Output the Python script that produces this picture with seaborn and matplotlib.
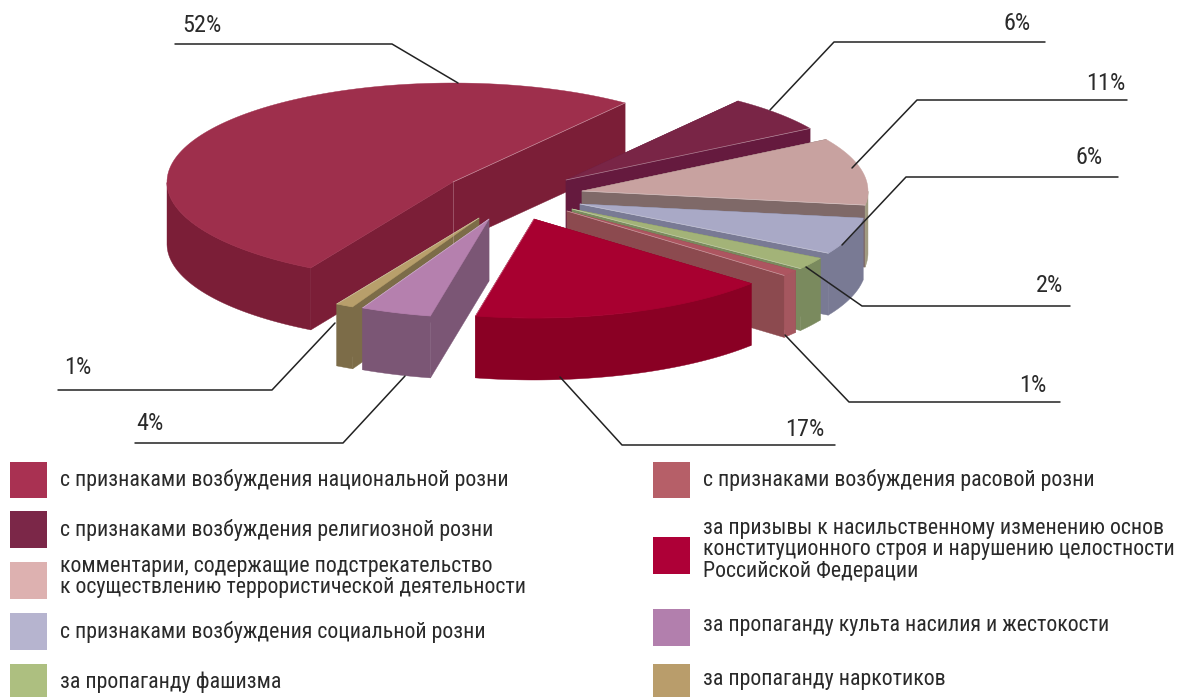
import numpy as np
import matplotlib
matplotlib.use("Agg")
import matplotlib.pyplot as plt
from matplotlib.patches import Rectangle
import seaborn as sns

# Data
labels = [
    "с признаками возбуждения национальной розни",
    "с признаками возбуждения религиозной розни",
    "комментарии, содержащие подстрекательство\nк осуществлению террористической деятельности",
    "с признаками возбуждения социальной розни",
    "за пропаганду фашизма",
    "с признаками возбуждения расовой розни",
    "за призывы к насильственному изменению основ\nконституционного строя и нарушению целостности\nРоссийской Федерации",
    "за пропаганду культа насилия и жестокости",
    "за пропаганду наркотиков",
]
values = [52, 6, 11, 6, 2, 1, 17, 4, 1]

# Colours
top_colors = ["#9E2F4C", "#792546", "#C8A2A0", "#A9A9C6", "#A3B378",
              "#AD5560", "#A80030", "#B580AE", "#B89F6B"]
face_colors = ["#7B1E37", "#651A3E", "#7F6968", "#797A94", "#7A8A5E",
               "#8C4A4F", "#8A0024", "#7B5675", "#7C6C48"]
wall_colors = ["#7B1E37", "#651A3E", "#A09A80", "#797A94", "#7A8A5E",
               "#A5575F", "#8A0024", "#7B5675", "#7C6C48"]
legend_colors = ["#A93152", "#7B2748", "#DDB1B0", "#B6B4CF", "#ADBF80",
                 "#B65F68", "#AE0037", "#B27FAD", "#B99D6B"]

# Pie layout, in pixels of the picture
apex_x = [453, 566, 582, 580, 572, 567, 534, 489, 479]
apex_y = [182, 180, 191, 204, 209, 211, 219, 219, 218]
draw_order = [0, 1, 2, 3, 4, 5, 6, 8, 7]
start_angle = 240.2
rx, ry, depth = 286, 99, 62

# Leader lines and their labels
leaders = [
    ([458, 392, 175], [83, 44, 44], "52%", 202, 26),
    ([770, 834, 1045], [110, 42, 42], "6%", 1017, 24),
    ([852, 917, 1127], [168, 100, 100], "11%", 1106, 84),
    ([842, 906, 1118], [245, 177, 177], "6%", 1089, 158),
    ([806, 862, 1070], [267, 306, 306], "2%", 1050, 285),
    ([785, 849, 1060], [335, 402, 402], "1%", 1033, 386),
    ([560, 622, 835], [377, 445, 445], "17%", 805, 430),
    ([405, 343, 135], [376, 443, 443], "4%", 150, 424),
    ([335, 272, 58], [323, 390, 390], "1%", 78, 367),
]

# Legend layout: swatch x, swatch top, swatch bottom, text x, text y
legend_x = [10, 10, 10, 10, 10, 653, 653, 653, 653]
legend_top = [462, 511, 562, 613, 664, 462, 537, 609, 664]
legend_bottom = [498, 548, 599, 650, 697, 498, 574, 646, 697]
legend_text_x = [60, 60, 60, 60, 60, 703, 703, 703, 703]
legend_text_y = [480, 530, 577, 632, 682, 480, 550, 625, 680]

sns.set_theme(style="white")
plt.rcParams["font.family"] = ["Roboto Condensed", "Liberation Sans", "DejaVu Sans"]

fig = plt.figure(figsize=(11.87, 6.97), dpi=100)
ax = fig.add_axes([0, 0, 1, 1])


def ellipse(cx, cy, a, b):
    t = np.radians(np.linspace(a, b, 120))
    return cx + rx * np.cos(t), cy - ry * np.sin(t)


# Slices go clockwise in legend order
ends = start_angle - np.cumsum(values) * 3.6
starts = np.r_[start_angle, ends[:-1]]

for i in draw_order:
    cx, cy = apex_x[i], apex_y[i]
    a, b = starts[i], ends[i]
    seam = sns.light_palette(top_colors[i], 4)[1]
    # Cut faces
    for ang in (a, b):
        ex, ey = ellipse(cx, cy, ang, ang)
        ex, ey = ex[0], ey[0]
        ax.fill([cx, ex, ex, cx], [cy, ey, ey + depth, cy + depth],
                color=face_colors[i], lw=0.3)
    # Outer wall, only the part that faces the viewer
    x, y = ellipse(cx, cy, a, b)
    front = np.sin(np.radians(np.linspace(a, b, 120))) < 0
    if front.any():
        ax.fill(np.r_[x[front], x[front][::-1]], np.r_[y[front], y[front][::-1] + depth],
                color=wall_colors[i], lw=0.3)
    # Top
    ax.fill(np.r_[cx, x], np.r_[cy, y], color=top_colors[i], lw=0.3)
    ax.plot(x[front], y[front], color=top_colors[i], lw=0.6, alpha=0.8)
    ax.plot([cx, x[-1]], [cy, y[-1]], color=seam, lw=0.5, alpha=0.7)
    if i == 0:
        ax.plot([cx, cx], [cy, cy + depth], color=seam, lw=0.5, alpha=0.5)

for lx, ly, txt, tx, ty in leaders:
    sns.lineplot(x=lx, y=ly, sort=False, estimator=None, color="#222222", lw=1.1, ax=ax)
    ax.text(tx, ty, txt, ha="center", va="center", fontsize=17.5, color="#2a2a2a")

for i, lab in enumerate(labels):
    ax.add_patch(Rectangle((legend_x[i], legend_top[i]), 37, legend_bottom[i] - legend_top[i],
                           color=legend_colors[i], lw=0))
    ax.text(legend_text_x[i], legend_text_y[i], lab, ha="left", va="center",
            fontsize=15.75, color="#2a2a2a", linespacing=1.03)

ax.set_xlim(0, 1187)
ax.set_ylim(697, 0)
ax.axis("off")
fig.savefig("out.png", dpi=100, facecolor="white")
